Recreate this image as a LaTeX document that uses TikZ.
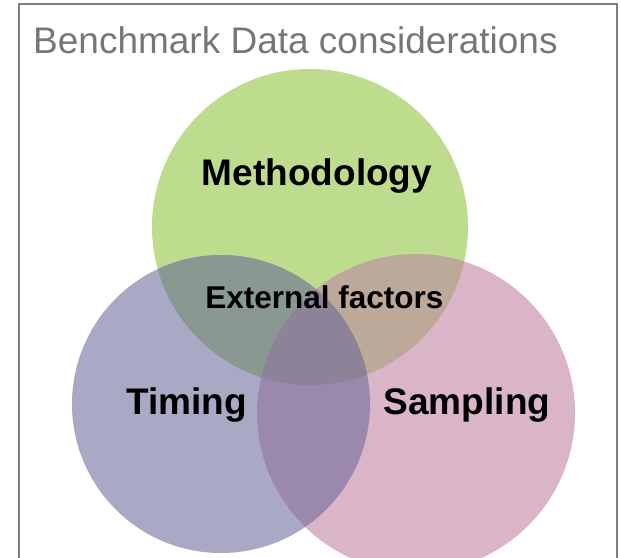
\documentclass[tikz,border=0pt]{standalone}
\usepackage{fontspec}
\setmainfont{Liberation Sans}
\definecolor{methfill}{HTML}{BDDC8E}
\definecolor{timefill}{HTML}{A9A9C5}
\definecolor{sampfill}{HTML}{DAB5C7}
\definecolor{mtfill}{HTML}{8A9892}
\definecolor{msfill}{HTML}{BCA99A}
\definecolor{tsfill}{HTML}{9A89AD}
\definecolor{allfill}{HTML}{8C8398}
\definecolor{titlegray}{HTML}{767676}
\tikzstyle{title} = [anchor=base west, inner sep=0pt, text=titlegray, font=\fontsize{37}{40}\selectfont]
\tikzstyle{setname} = [anchor=base, inner sep=0pt, font=\bfseries\fontsize{37}{40}\selectfont]
\tikzstyle{inner} = [anchor=base, inner sep=0pt, font=\bfseries\fontsize{31.5}{34}\selectfont]
\begin{document}
\begin{tikzpicture}[x=1pt,y=-1pt]
\useasboundingbox (0,0) rectangle (620,557);
\clip (0,0) rectangle (620,557);
% set centres
\coordinate (meth) at (310,227);
\coordinate (time) at (221,404);
\coordinate (samp) at (416,413);
% circles
\fill[methfill] (meth) circle (158pt);
\fill[timefill] (time) circle (149pt);
\fill[sampfill] (samp) circle (159pt);
% pairwise overlaps
\begin{scope}
  \clip (meth) circle (158pt);
  \fill[mtfill] (time) circle (149pt);
\end{scope}
\begin{scope}
  \clip (meth) circle (158pt);
  \fill[msfill] (samp) circle (159pt);
\end{scope}
\begin{scope}
  \clip (time) circle (149pt);
  \fill[tsfill] (samp) circle (159pt);
\end{scope}
% middle part
\begin{scope}
  \clip (meth) circle (158pt);
  \clip (time) circle (149pt);
  \fill[allfill] (samp) circle (159pt);
\end{scope}
% frame
\draw[gray, line width=1.5pt] (19,4) rectangle (617,600);
% texts
\node[title] (head) at (33,53) {Benchmark Data considerations};
\node[setname] (m) at (317,185) {Methodology};
\node[setname] (t) at (186.5,414) {Timing};
\node[setname] (s) at (467,414) {Sampling};
\node[inner] (e) at (324.5,308) {External factors};
\end{tikzpicture}
\end{document}
